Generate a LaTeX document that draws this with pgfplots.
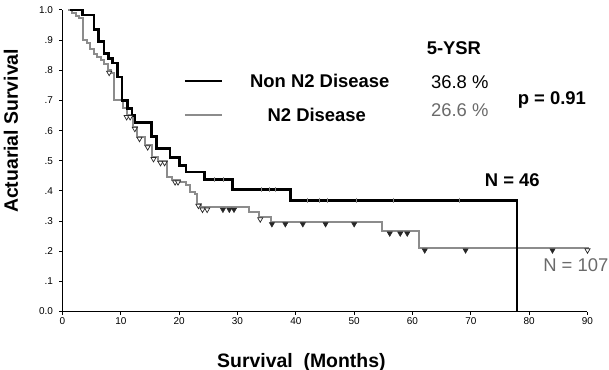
\documentclass[border=0pt]{standalone}
\usepackage{fontspec}
\setmainfont{Liberation Sans}
\usepackage{pgfplots}
\pgfplotsset{compat=1.18}
\definecolor{ngray}{HTML}{8C8C8C}
\definecolor{tgray}{HTML}{6A6A6A}
\newcommand\mybigbold{\fontsize{18.5}{20}\selectfont\bfseries}
\newcommand\mybigreg{\fontsize{18.5}{20}\selectfont}
\begin{document}
\begin{tikzpicture}
\useasboundingbox (-62.5bp,-58.5bp) rectangle (546.5bp,311.5bp);
\begin{axis}[
  scale only axis, width=525bp, height=301.5bp,
  xmin=0, xmax=90, ymin=0, ymax=1,
  axis lines=left,
  axis line style={line width=1.2bp, -},
  clip=false,
  xtick={0,10,20,30,40,50,60,70,80,90},
  ytick={0,0.1,0.2,0.3,0.4,0.5,0.6,0.7,0.8,0.9,1},
  yticklabels={0.0,.1,.2,.3,.4,.5,.6,.7,.8,.9,1.0},
  tick align=outside,
  major tick length=3bp,
  tick style={line width=1bp, black},
  ticklabel style={font=\fontsize{10}{11}\selectfont},
  yticklabel style={xshift=-3bp},
  /pgf/number format/assume math mode=true,
  xlabel={Survival\ \ (Months)},
  ylabel={Actuarial Survival},
  xlabel style={at={(axis description cs:0.455,0)}, anchor=center, yshift=-50.5bp, font=\fontsize{19.5}{21}\selectfont\bfseries},
  ylabel style={at={(axis description cs:0,0.599)}, anchor=center, yshift=51.5bp, font=\fontsize{19.5}{21}\selectfont\bfseries},
]
% N2 Disease (gray)
\addplot[ngray, line width=2bp, const plot] coordinates {
(1.0,1.0) (1.7,0.99) (2.3,0.98) (2.9,0.972) (3.5,0.90) (4.2,0.89) (4.8,0.87)
(5.4,0.855) (6.0,0.845) (6.6,0.835) (7.2,0.82) (7.8,0.80) (8.4,0.79) (8.9,0.70)
(10.3,0.675) (11.0,0.652) (12.1,0.613) (12.7,0.58) (14.1,0.552) (15.3,0.513)
(16.4,0.50) (17.9,0.447) (18.7,0.436) (20.2,0.43) (21.1,0.419) (21.9,0.396)
(22.8,0.39) (23.1,0.358) (23.7,0.345) (31.9,0.331) (33.7,0.313) (35.7,0.297)
(54.8,0.266) (61.1,0.21) (90.2,0.21)};
% Non N2 Disease (black)
\addplot[black, line width=2.6bp, const plot] coordinates {
(1.3,1.0) (3.4,0.983) (5.4,0.936) (6.2,0.895) (7.1,0.856) (7.9,0.84) (8.6,0.824)
(9.4,0.778) (10.2,0.70) (11.1,0.673) (11.9,0.65) (12.4,0.627) (15.3,0.58)
(16.1,0.54) (18.4,0.51) (20.1,0.485) (21.2,0.463) (24.3,0.438) (29.1,0.404)
(39.1,0.369) (77.9,0.369) (77.9,0)};
% censor ticks on black curve
\addplot[only marks, mark=|, mark size=2.5bp, ngray, mark options={line width=0.6bp}] coordinates {
(26,0.438) (27.5,0.438) (34,0.404) (35.5,0.404) (36.4,0.404) (42,0.369) (44,0.369)
(45.4,0.369) (50.4,0.369) (56.7,0.369) (68.1,0.369)};
% censor marks on gray curve (open)
\addplot[only marks, mark=triangle*, mark size=3bp, mark options={rotate=180, fill=white, draw=black!85, line width=0.7bp}] coordinates {
(8.0,0.792) (11.0,0.645) (11.6,0.645) (12.4,0.606) (13.2,0.573) (14.6,0.545)
(15.6,0.506) (16.8,0.493) (17.5,0.493) (19.3,0.429) (19.8,0.429) (23.3,0.351)
(24.0,0.338) (24.8,0.338) (33.9,0.306) (90.0,0.203)};
% censor marks on gray curve (filled)
\addplot[only marks, mark=triangle*, mark size=3bp, mark options={rotate=180, fill=black!85, draw=black!85, line width=0.5bp}] coordinates {
(27.5,0.338) (28.6,0.338) (29.4,0.338) (35.9,0.29) (38.2,0.29) (41.2,0.29)
(45.1,0.29) (50.0,0.29) (56.1,0.259) (57.9,0.259) (59.1,0.259) (62.1,0.203)
(69.1,0.203) (84.0,0.203)};
% legend
\draw[black, line width=2.6bp] (axis cs:21,0.764) -- (axis cs:27.3,0.764);
\draw[ngray, line width=2bp] (axis cs:21,0.652) -- (axis cs:27.3,0.652);
\node[font=\mybigbold] at (axis cs:44.1,0.764) {Non N2 Disease};
\node[font=\mybigbold] at (axis cs:43.6,0.652) {N2 Disease};
\node[font=\mybigbold] at (axis cs:67.1,0.874) {5-YSR};
\node[font=\mybigreg] at (axis cs:68.1,0.761) {36.8 \%};
\node[font=\mybigreg, text=tgray] at (axis cs:68.1,0.668) {26.6 \%};
\node[font=\mybigbold] at (axis cs:83.9,0.701) {p = 0.91};
\node[font=\mybigbold] at (axis cs:77.1,0.436) {N = 46};
\node[font=\mybigreg, text=tgray] at (axis cs:88.0,0.154) {N = 107};
\end{axis}
\end{tikzpicture}
\end{document}
